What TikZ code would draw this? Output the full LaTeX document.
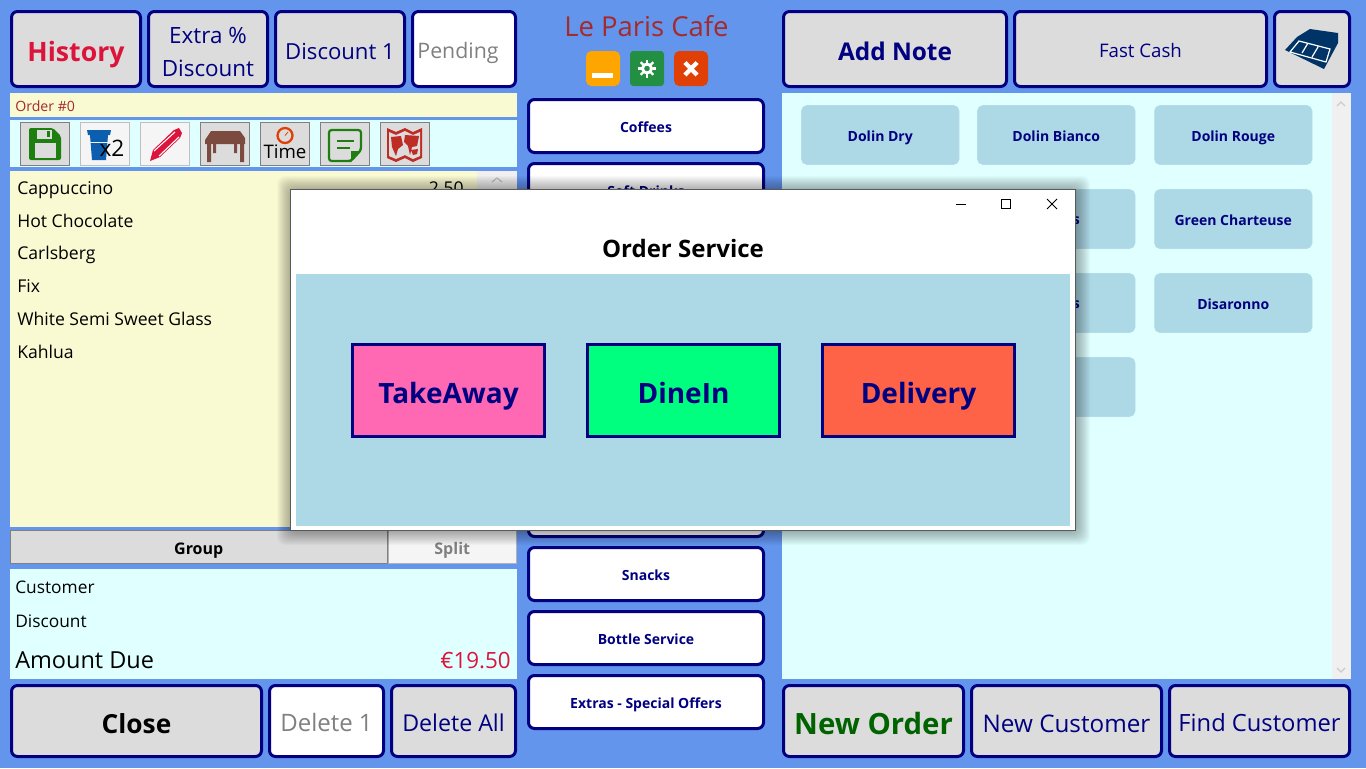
\documentclass[tikz,border=0pt]{standalone}
\usepackage{fontspec}
\setmainfont{Open Sans}
\definecolor{pageblue}{HTML}{6495ED}
\definecolor{navyline}{HTML}{000080}
\definecolor{btngray}{HTML}{DCDCDC}
\definecolor{paleyellow}{HTML}{FAFAD2}
\definecolor{palecyan}{HTML}{E0FFFF}
\definecolor{tileblue}{HTML}{ADD8E6}
\definecolor{barcolor}{HTML}{F0F0F0}
\definecolor{crimsonred}{HTML}{DC143C}
\definecolor{cafebrown}{HTML}{A52A2A}
\definecolor{tablebrown}{HTML}{7B4B3F}
\definecolor{okgreen}{HTML}{1E7F10}
\definecolor{minorange}{HTML}{FFA500}
\definecolor{gearn}{HTML}{228F42}
\definecolor{closered}{HTML}{E03F06}
\definecolor{cupblue}{HTML}{0B5FAE}
\definecolor{tillblue}{HTML}{003366}
\definecolor{mapred}{HTML}{BE2C24}
\tikzset{
  navybtn/.style={draw=navyline, line width=2.25pt, rounded corners=4.5pt, fill=btngray},
  whitebtn/.style={navybtn, fill=white},
  toolbtn/.style={draw=gray, line width=.75pt, fill=btngray},
  paletool/.style={draw=black!25, line width=.75pt, fill=black!4},
  tile/.style={fill=tileblue, draw=tileblue!90!palecyan, rounded corners=4pt},
  servicebtn/.style={draw=navyline, line width=2.25pt},
  lbl/.style={font=\fontsize{#1}{#1}\selectfont, inner sep=0pt, text height=1.12*#1 pt, text depth=.2*#1 pt},
  blbl/.style={font=\fontsize{#1}{#1}\selectfont\bfseries, inner sep=0pt, text height=1.12*#1 pt, text depth=.2*#1 pt},
}
\begin{document}
\begin{tikzpicture}[x=.75pt, y=-.75pt]
  \useasboundingbox (0,0) rectangle (1366,768);
  \fill[pageblue] (0,0) rectangle (1366,768);

  % top row, left
  \draw[navybtn] (11.5,11.5) rectangle (140.5,86.5) node[midway, blbl=20, crimsonred] (history) {History};
  \draw[navybtn] (148.5,11.5) rectangle (267.5,86.5);
  \node[lbl=16.8, navyline] (extra) at (208,33) {Extra \%};
  \node[lbl=16.8, navyline] (extradisc) at (208,66) {Discount};
  \draw[navybtn] (275.5,11.5) rectangle (404.5,86.5) node[midway, lbl=16.6, navyline] (discount) {Discount 1};
  \draw[whitebtn] (412.5,11.5) rectangle (515.5,86.5);
  \node[lbl=16, gray] (pending) at (458,49) {Pending};

  % title
  \node[lbl=20.6, cafebrown] (title) at (646.5,24) {Le Paris Cafe};
  \fill[minorange, rounded corners=4pt] (586,51) rectangle (620,86);
  \fill[white] (592,73) rectangle (613,78);
  \fill[gearn, rounded corners=2.5pt] (630,51) rectangle (664,86);
  \draw[white, line width=2.2pt] (647,68.5) circle (4.5);
  \foreach \a in {0,45,...,315}
    \draw[white, line width=1.8pt] (647,68.5) ++(\a:5.5) -- ++(\a:3.5);
  \fill[closered, rounded corners=4pt] (674,51) rectangle (708,86);
  \draw[white, line width=3.2pt] (685,62.5) -- (697,75) (697,62.5) -- (685,75);

  % top row, right
  \draw[navybtn] (783.5,11.5) rectangle (1006.5,86.5) node[midway, blbl=18.3, navyline] (addnote) {Add Note};
  \draw[navybtn] (1014.5,11.5) rectangle (1266.5,86.5) node[midway, lbl=14, navyline] (fastcash) {Fast Cash};
  \draw[navybtn] (1274.5,11.5) rectangle (1349.5,86.5);
  \fill[tillblue] (1285,50) -- (1297,37) -- (1310,29) -- (1338,33) -- (1338,43) -- (1324,69) -- cycle;
  \draw[white, line width=.9pt] (1290,52) -- (1299,41) -- (1330,49) -- (1326,62) -- cycle
    (1302,53) -- (1308,43) (1312,57) -- (1318,47);

  % order header and toolbar
  \fill[paleyellow] (10,93) rectangle (517,117);
  \node[lbl=10.6, cafebrown, anchor=west] (ordernum) at (15,105) {Order \#0};
  \fill[palecyan] (10,120) rectangle (517,167);
  \foreach \x/\s in {20/toolbtn,80/paletool,140/paletool,200/toolbtn,260/toolbtn,320/toolbtn,380/toolbtn}
    \draw[\s] (\x.5,122.5) rectangle ++(49,43);

  % floppy
  \fill[okgreen, rounded corners=1.5pt] (29,128) -- (53,128) -- (61,136) -- (61,160) -- (29,160) -- cycle;
  \fill[btngray] (37,130) rectangle (52,139);
  \fill[okgreen] (47,131) rectangle (50,137);
  \fill[btngray] (35,143) rectangle (56,158);
  % cup
  \fill[cupblue] (87,130) -- (111,130) -- (110,135) -- (108,135) -- (106,160) -- (92,160) -- (90,135) -- (88,135) -- cycle;
  \draw[barcolor, line width=.6pt] (89,142) -- (108,142);
  \node[lbl=17, black] (cupx) at (112,146) {x2};
  % pencil
  \fill[crimsonred] (150,161) -- (153,150) -- (174,130) -- (179,128) -- (182,133) -- (180,138) -- (160,157) -- cycle;
  \draw[white, line width=.8pt] (154,151) -- (175,132) (159,156) -- (179,137);
  % table
  \fill[tablebrown] (205,140) -- (211,131) -- (240,131) -- (245,138) -- (245,144) -- (205,144) -- cycle;
  \fill[tablebrown] (207,144) rectangle (211,162) (240,144) rectangle (244,162)
    (213,144) rectangle (216,153) (234,144) rectangle (237,153);
  % time
  \draw[closered, line width=1.7pt] (285,135.5) circle (7.5);
  \draw[closered, line width=.6pt] (285,135.5) -- (288,132);
  \node[lbl=14, black] (timelbl) at (285,150) {Time};
  % note
  \draw[okgreen, line width=1.7pt, rounded corners=2pt] (349,161) -- (329,161) -- (329,130) -- (361,130) -- (361,150) -- (351,161) -- cycle;
  \fill[okgreen] (351,161) -- (351,151) -- (361,151) -- cycle;
  \draw[okgreen, line width=1.5pt] (337,141) -- (354,141) (337,147.5) -- (350,147.5);
  % map
  \fill[mapred] (387,128) -- (396,132) -- (405,128) -- (413,132) -- (422,128) -- (422,158) -- (413,162) -- (405,158) -- (396,162) -- (387,158) -- cycle;
  \fill[btngray] (389,132) -- (396,135) -- (405,131) -- (413,135) -- (420,132) -- (420,156) -- (413,159) -- (405,155) -- (396,159) -- (389,156) -- cycle;
  \fill[mapred] (391,137) -- (401,136) -- (403,145) -- (398,149) -- (396,156) -- (392,147) -- cycle
    (405,135) -- (419,136) -- (417,146) -- (412,147) -- (410,155) -- (408,146) -- (404,142) -- cycle
    (411,150) -- (418,149) -- (417,154) -- (413,155) -- cycle;

  % order list
  \fill[paleyellow] (10,171) rectangle (477,527);
  \fill[barcolor] (477,171) rectangle (517,527);
  \draw[black!25, line width=.9pt] (492,182) -- (497,178) -- (502,182);
  \foreach \y/\t [count=\i] in {186/Cappuccino,219/Hot Chocolate,251/Carlsberg,284/Fix,317/White Semi Sweet Glass,350/Kahlua}
    \node[lbl=13.2, anchor=west] (item\i) at (17,\y) {\t};
  \node[lbl=13.2, anchor=east] (price) at (464,186) {2.50};

  % group and split
  \draw[toolbtn] (10.5,530.5) rectangle (387,563.5) node[midway, blbl=12, black] (group) {Group};
  \draw[paletool, draw=black!30] (388,530.5) rectangle (516.5,563.5) node[midway, blbl=12, gray] (split) {Split};

  % customer panel
  \fill[palecyan] (10,569) rectangle (517,679);
  \node[lbl=13, anchor=west] (customer) at (15,586) {Customer};
  \node[lbl=13, anchor=west] (discountlbl) at (15,620) {Discount};
  \node[lbl=17.6, anchor=west] (amount) at (15,658) {Amount Due};
  \node[lbl=16.8, anchor=east, crimsonred] (due) at (511,658) {€19.50};

  % bottom row
  \draw[navybtn] (11.5,685.5) rectangle (261.5,756.5) node[midway, blbl=19.7, black] (close) {Close};
  \draw[whitebtn] (269.5,685.5) rectangle (383.5,756.5);
  \node[lbl=18, gray] (deleteone) at (326.5,720) {Delete 1};
  \draw[navybtn] (391.5,685.5) rectangle (515.5,756.5) node[midway, lbl=17.4, navyline] (deleteall) {Delete All};
  \draw[navybtn] (783.5,685.5) rectangle (963.5,756.5) node[midway, blbl=22, green!39!black] (neworder) {New Order};
  \draw[navybtn] (971.5,685.5) rectangle (1161.5,756.5) node[midway, lbl=18.2, navyline] (newcustomer) {New Customer};
  \draw[navybtn] (1169.5,685.5) rectangle (1349.5,756.5) node[midway, lbl=17.8, navyline] (findcustomer) {Find Customer};

  % categories
  \foreach \y/\t [count=\i] in {99.5/Coffees,163.5/Soft Drinks,483.5/{},547.5/Snacks,611.5/Bottle Service,675.5/Extras - Special Offers}
    \draw[whitebtn] (528.5,\y) rectangle ++(235,53) node[midway, blbl=10.5, navyline] (cat\i) {\t};

  % products
  \fill[palecyan] (782,93) rectangle (1351,679);
  \fill[barcolor] (1332,93) rectangle (1351,679);
  \draw[black!20, line width=.9pt] (1337,106) -- (1341,102) -- (1345,106) (1337,668) -- (1341,672) -- (1345,668);
  \foreach \x/\y/\t [count=\i] in {801/105/Dolin Dry,977/105/Dolin Bianco,1154/105/Dolin Rouge,
      801/189/{},977/189/{},1154/189/Green Charteuse,801/273/{},977/273/{},1154/273/Disaronno,977/357/{}}
    \draw[tile] (\x.5,\y.5) rectangle ++(157.5,59) node[midway, blbl=10.5, navyline] (prod\i) {\t};
  \node[blbl=10.5, navyline, anchor=east] (partone) at (1080,218) {s};
  \node[blbl=10.5, navyline, anchor=east] (parttwo) at (1080,302) {s};

  % service window
  \foreach \g in {1,...,14}
    \fill[black, opacity=.022, rounded corners=6pt] (291-\g,190-\g) rectangle (1075+\g+1,530+\g+1);
  \draw[fill=white, draw=black!65, line width=.75pt] (290.5,189.5) rectangle (1075.5,530.5);
  \draw[black, line width=.75pt] (956,204) -- (966,204);
  \draw[black, line width=.75pt] (1001.5,199.5) rectangle (1010.5,208.5);
  \draw[black, line width=.75pt] (1047,199) -- (1057,209) (1057,199) -- (1047,209);
  \node[blbl=18, black] (service) at (683,246) {Order Service};
  \fill[tileblue] (296,274) rectangle (1070,526);
  \draw[servicebtn, fill={rgb,255:red,255;green,105;blue,180}] (352.5,344.5) rectangle (544.5,436.5) node[midway, blbl=21, navyline] (takeaway) {TakeAway};
  \draw[servicebtn, fill={rgb,255:red,0;green,255;blue,127}] (587.5,344.5) rectangle (779.5,436.5) node[midway, blbl=21, navyline] (dinein) {DineIn};
  \draw[servicebtn, fill={rgb,255:red,255;green,99;blue,71}] (822.5,344.5) rectangle (1014.5,436.5) node[midway, blbl=21, navyline] (delivery) {Delivery};
\end{tikzpicture}
\end{document}
